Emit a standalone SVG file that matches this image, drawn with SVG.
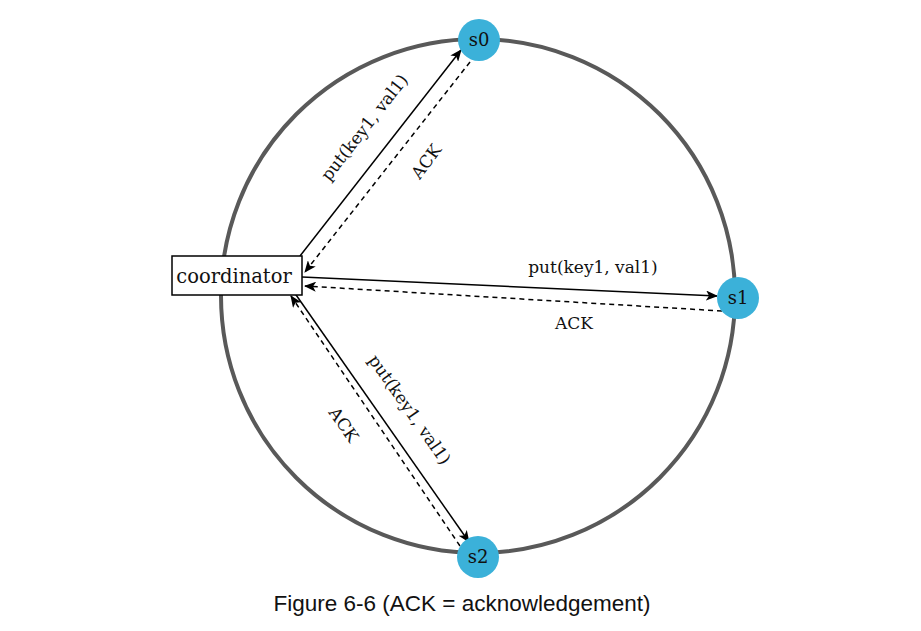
<svg xmlns="http://www.w3.org/2000/svg" width="921" height="631" viewBox="0 0 921 631">
<style>
.ring{fill:none;stroke:#595959;stroke-width:4}
.node{fill:#3bb1d9}
.nt{font-family:"DejaVu Serif","Liberation Serif",serif;font-size:18px;fill:#111;text-anchor:middle}
.lbl{font-family:"DejaVu Serif","Liberation Serif",serif;font-size:17px;fill:#111;text-anchor:middle}
.solid{stroke:#000;stroke-width:1.5;fill:none}
.dash{stroke:#000;stroke-width:1.5;fill:none;stroke-dasharray:5 4}
</style>
<defs>
<marker id="ah" viewBox="0 0 12 10" refX="11" refY="5" markerWidth="12" markerHeight="10" markerUnits="userSpaceOnUse" orient="auto">
<path d="M0,0 L12,5 L0,10 L3,5 Z" fill="#000"/>
</marker>
</defs>
<rect width="921" height="631" fill="#fff"/>
<circle class="ring" cx="478" cy="296" r="257"/>
<g id="connectors">
<line class="solid" x1="300" y1="256" x2="461" y2="50" marker-end="url(#ah)"/>
<line class="dash" x1="470" y1="62" x2="305" y2="272" marker-end="url(#ah)"/>
<line class="solid" x1="302" y1="277" x2="717" y2="296" marker-end="url(#ah)"/>
<line class="dash" x1="722" y1="311" x2="305" y2="286" marker-end="url(#ah)"/>
<line class="solid" x1="294" y1="292" x2="469" y2="542" marker-end="url(#ah)"/>
<line class="dash" x1="460" y1="546" x2="291" y2="296" marker-end="url(#ah)"/>
<text class="lbl" transform="translate(369,131) rotate(-52)">put(key1, val1)</text>
<text class="lbl" transform="translate(431,165) rotate(-54)">ACK</text>
<text class="lbl" x="593" y="273">put(key1, val1)</text>
<text class="lbl" x="574" y="329">ACK</text>
<text class="lbl" transform="translate(405,413) rotate(55)">put(key1, val1)</text>
<text class="lbl" transform="translate(339,428) rotate(55)">ACK</text>
</g>
<g id="coordinator">
<rect x="172" y="256" width="130" height="39" fill="#fff" stroke="#000" stroke-width="1.5"/>
<text x="234" y="283" font-family="'DejaVu Serif','Liberation Serif',serif" font-size="19.5" text-anchor="middle" fill="#111">coordinator</text>
</g>
<g id="s0">
<circle class="node" cx="479" cy="40" r="21"/>
<text class="nt" x="479" y="46">s0</text>
</g>
<g id="s1">
<circle class="node" cx="738" cy="298" r="21"/>
<text class="nt" x="738" y="304">s1</text>
</g>
<g id="s2">
<circle class="node" cx="478" cy="557" r="21"/>
<text class="nt" x="478" y="563">s2</text>
</g>
<text x="462" y="611" font-family="'Liberation Sans',Arial,sans-serif" font-size="22.5" text-anchor="middle" fill="#111">Figure 6-6 (ACK = acknowledgement)</text>
</svg>
